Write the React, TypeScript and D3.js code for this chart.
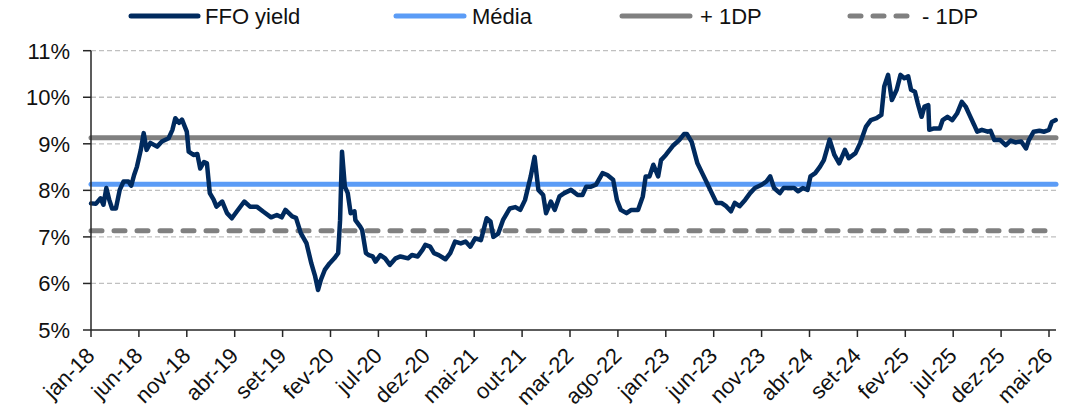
import React from "react";
import * as d3 from "d3";

// months since jan-2018
const months: number[] = [
  0.0, 0.5, 1.0, 1.3, 1.6, 1.9, 2.2, 2.6, 3.0, 3.4, 3.9, 4.2, 4.5, 4.8, 5.2, 5.5, 5.8, 6.2, 6.9, 7.4,
  8.1, 8.5, 8.8, 9.2, 9.5, 10.0, 10.2, 10.7, 11.1, 11.4, 11.8, 12.1, 12.4, 12.8, 13.1, 13.7, 14.2, 14.7, 15.2, 16.0,
  16.6, 17.3, 18.0, 18.8, 19.4, 19.9, 20.3, 21.0, 21.4, 21.9, 22.5, 23.0, 23.4, 23.7, 24.0, 24.4, 24.9, 25.4, 25.8, 26.0,
  26.2, 26.5, 26.8, 27.1, 27.5, 27.6, 28.1, 28.3, 28.7, 29.0, 29.4, 29.7, 30.2, 30.7, 31.2, 31.8, 32.3, 33.1, 33.5, 34.1,
  34.6, 34.9, 35.4, 35.8, 36.3, 37.0, 37.5, 38.0, 38.6, 39.1, 39.6, 40.1, 40.7, 41.3, 41.7, 42.0, 42.5, 43.0, 43.7, 44.3,
  44.8, 45.3, 45.9, 46.3, 46.7, 47.2, 47.5, 48.0, 48.4, 48.9, 49.4, 50.1, 50.8, 51.3, 51.7, 52.2, 52.7, 53.4, 53.9, 54.5,
  54.9, 55.3, 55.9, 56.4, 57.1, 57.6, 57.9, 58.3, 58.7, 59.2, 59.5, 60.0, 60.8, 61.4, 61.9, 62.2, 62.7, 63.3, 63.8, 64.3,
  64.8, 65.3, 65.8, 66.3, 66.8, 67.2, 67.7, 68.3, 68.8, 69.3, 70.0, 70.5, 70.9, 71.3, 71.9, 72.3, 72.8, 73.4, 73.8, 74.3,
  74.8, 75.1, 75.6, 76.1, 76.5, 76.9, 77.1, 77.6, 78.1, 78.7, 79.1, 79.8, 80.3, 80.9, 81.4, 82.0, 82.5, 82.8, 83.2, 83.6,
  84.1, 84.5, 84.9, 85.3, 85.6, 86.0, 86.3, 86.7, 87.0, 87.4, 87.5, 88.0, 88.6, 88.9, 89.4, 89.9, 90.4, 90.9, 91.3, 91.7,
  92.2, 92.5, 93.0, 93.6, 93.9, 94.3, 94.9, 95.5, 96.0, 96.5, 97.1, 97.6, 97.9, 98.4, 99.0, 99.5, 100.0, 100.3, 100.7,
];

const ffoYield: number[] = [
  7.72, 7.71, 7.83, 7.69, 8.05, 7.80, 7.61, 7.61, 8.01, 8.19, 8.19, 8.10, 8.33, 8.51, 8.87, 9.23, 8.87, 9.02, 8.94, 9.05,
  9.12, 9.30, 9.55, 9.45, 9.52, 9.26, 8.83, 8.76, 8.78, 8.47, 8.61, 8.58, 7.94, 7.80, 7.65, 7.76, 7.51, 7.40, 7.54, 7.76,
  7.65, 7.65, 7.54, 7.42, 7.47, 7.42, 7.58, 7.44, 7.41, 7.08, 6.86, 6.43, 6.15, 5.86, 6.08, 6.29, 6.43, 6.54, 6.65, 7.36,
  8.83, 8.08, 7.94, 7.51, 7.55, 7.36, 7.22, 7.15, 6.65, 6.61, 6.58, 6.47, 6.61, 6.54, 6.40, 6.54, 6.58, 6.54, 6.61, 6.58,
  6.72, 6.83, 6.79, 6.65, 6.61, 6.52, 6.65, 6.90, 6.86, 6.90, 6.79, 6.97, 6.93, 7.40, 7.33, 7.00, 7.07, 7.36, 7.61, 7.64,
  7.58, 7.79, 8.30, 8.72, 8.01, 7.90, 7.51, 7.76, 7.58, 7.87, 7.94, 8.01, 7.90, 7.90, 8.08, 8.08, 8.12, 8.37, 8.33, 8.23,
  7.79, 7.58, 7.51, 7.58, 7.58, 7.87, 8.30, 8.30, 8.55, 8.30, 8.65, 8.76, 8.97, 9.08, 9.21, 9.21, 9.04, 8.58, 8.37, 8.16,
  7.94, 7.73, 7.73, 7.66, 7.55, 7.73, 7.66, 7.80, 7.94, 8.05, 8.12, 8.19, 8.30, 8.05, 7.94, 8.05, 8.05, 8.05, 7.98, 8.05,
  8.01, 8.30, 8.37, 8.51, 8.65, 8.94, 9.09, 8.76, 8.58, 8.87, 8.69, 8.80, 9.02, 9.37, 9.51, 9.55, 9.62, 10.23, 10.48, 9.94,
  10.16, 10.48, 10.41, 10.45, 10.16, 10.12, 9.87, 9.58, 9.80, 9.83, 9.30, 9.33, 9.33, 9.51, 9.58, 9.51, 9.65, 9.90, 9.80, 9.62,
  9.40, 9.26, 9.30, 9.26, 9.28, 9.08, 9.08, 8.97, 9.07, 9.03, 9.05, 8.90, 9.08, 9.26, 9.28, 9.26, 9.30, 9.47, 9.51,
];

const media: number[] = [8.13];
const plusOneDP: number[] = [9.13];
const minusOneDP: number[] = [7.13];

const xTickMonths: number[] = [0, 5, 10, 15, 20, 25, 30, 35, 40, 45, 50, 55, 60, 65, 70, 75, 80, 85, 90, 95, 100];
const xTickLabels: string[] = [
  "jan-18", "jun-18", "nov-18", "abr-19", "set-19", "fev-20", "jul-20", "dez-20", "mai-21", "out-21", "mar-22",
  "ago-22", "jan-23", "jun-23", "nov-23", "abr-24", "set-24", "fev-25", "jul-25", "dez-25", "mai-26",
];
const yTicks: number[] = [5, 6, 7, 8, 9, 10, 11];

const W = 1073;
const H = 415;
const FONT = "'Liberation Sans', Arial, sans-serif";
const NAVY = "#002A5E";
const LIGHTBLUE = "#5B9CF6";
const GRAY = "#808080";

export default function App() {
  const x = d3.scaleLinear().domain([0, 100]).range([91, 1049]);
  const y = d3.scaleLinear().domain([5, 11]).range([330, 50.7]);
  const xEnd = 1056;

  const pts = months.map((m, i) => [m, ffoYield[i]] as [number, number]);
  const line = d3
    .line<[number, number]>()
    .x((d) => x(d[0]))
    .y((d) => y(d[1]));

  const legend = [
    { label: "FFO yield", color: NAVY, dash: undefined as string | undefined, x0: 131, x1: 198, tx: 205 },
    { label: "Média", color: LIGHTBLUE, dash: undefined, x0: 396, x1: 464, tx: 472 },
    { label: "+ 1DP", color: GRAY, dash: undefined, x0: 622, x1: 690, tx: 700 },
    { label: "- 1DP", color: GRAY, dash: "11 12", x0: 850, x1: 910, tx: 922 },
  ];

  return (
    <svg
      width={W}
      height={H}
      style={{ position: "absolute", left: 0, top: 0, background: "#fff" }}
      fontFamily={FONT}
    >
      {/* gridlines */}
      {yTicks
        .filter((t) => t > 5)
        .map((t) => (
          <line
            key={"g" + t}
            x1={x(0)}
            x2={xEnd}
            y1={y(t)}
            y2={y(t)}
            stroke="#C0C0C0"
            strokeWidth={1.3}
            strokeDasharray="5 3"
          />
        ))}

      {/* reference lines */}
      <line x1={x(0)} x2={xEnd} y1={y(minusOneDP[0])} y2={y(minusOneDP[0])} stroke={GRAY} strokeWidth={5} strokeDasharray="11 12" strokeLinecap="round" />
      <line x1={x(0)} x2={xEnd} y1={y(plusOneDP[0])} y2={y(plusOneDP[0])} stroke={GRAY} strokeWidth={5} strokeLinecap="round" />
      <line x1={x(0)} x2={xEnd} y1={y(media[0])} y2={y(media[0])} stroke={LIGHTBLUE} strokeWidth={5} strokeLinecap="round" />

      {/* series */}
      <path d={line(pts) || ""} fill="none" stroke={NAVY} strokeWidth={4.5} strokeLinejoin="round" strokeLinecap="round" />

      {/* axes */}
      <line x1={x(0)} x2={x(0)} y1={y(11)} y2={y(5)} stroke="#262626" strokeWidth={1.5} />
      <line x1={x(0)} x2={xEnd} y1={y(5)} y2={y(5)} stroke="#262626" strokeWidth={1.5} />
      {yTicks.map((t) => (
        <g key={"y" + t}>
          <line x1={x(0) - 8} x2={x(0)} y1={y(t)} y2={y(t)} stroke="#262626" strokeWidth={1.5} />
          <text x={70} y={y(t) + 8} textAnchor="end" fontSize={22} fill="#111">
            {t}%
          </text>
        </g>
      ))}
      {xTickMonths.map((m, i) => (
        <g key={"x" + m}>
          <line x1={x(m)} x2={x(m)} y1={y(5)} y2={y(5) + 7} stroke="#262626" strokeWidth={1.5} />
          <text
            transform={`translate(${x(m) + 5},${y(5) + 27}) rotate(-45)`}
            textAnchor="end"
            fontSize={22}
            fill="#111"
          >
            {xTickLabels[i]}
          </text>
        </g>
      ))}

      {/* legend */}
      {legend.map((l) => (
        <g key={l.label}>
          <line x1={l.x0} x2={l.x1} y1={16} y2={16} stroke={l.color} strokeWidth={5} strokeLinecap="round" strokeDasharray={l.dash} />
          <text x={l.tx} y={24} fontSize={22} fill="#111">
            {l.label}
          </text>
        </g>
      ))}
    </svg>
  );
}
